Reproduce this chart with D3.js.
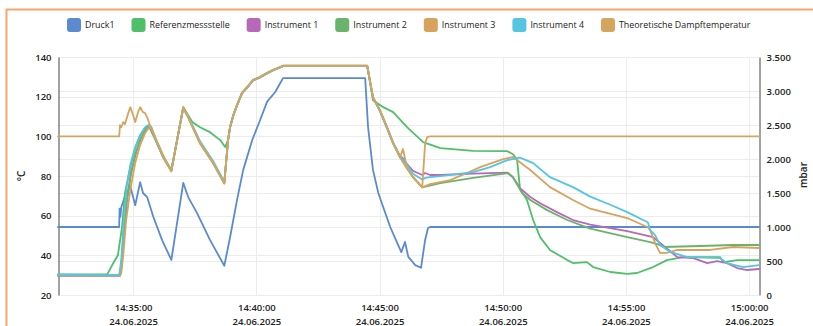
<!DOCTYPE html>
<html>
<head>
<meta charset="utf-8">
<script src="https://cdn.jsdelivr.net/npm/d3@7"></script>
<style>
  html, body { margin: 0; padding: 0; background: #fff; }
  svg { display: block; font-family: "Open Sans", "Noto Sans", sans-serif; }
</style>
</head>
<body>
<svg id="chart" width="813" height="326"></svg>
<script>
// ---- Messdaten 24.06.2025 ----
const messDatum = "24.06.2025";
const zeitTicks = ["14:35:00", "14:40:00", "14:45:00", "14:50:00", "14:55:00", "15:00:00"];
const zeitBereich = ["14:31:57", "15:00:24"];
const tempTicks = [20, 40, 60, 80, 100, 120, 140];
const druckTicks = [0, 500, 1000, 1500, 2000, 2500, 3000, 3500];

const seriesNames = ["Druck1", "Referenzmessstelle", "Instrument 1", "Instrument 2",
                     "Instrument 3", "Instrument 4", "Theoretische Dampftemperatur"];
const seriesColors = ["#5b8ad0", "#4fbf6a", "#b768b8", "#6ab36a", "#d8a25d", "#56c6e0", "#d4a55f"];

// Druck1 in mbar (rechte Achse)
const druck1 = [
  ["14:31:57",1000],["14:34:26",1000],["14:34:27",1270],["14:34:29",1150],["14:34:31",1290],
  ["14:34:40",1450],["14:34:53",1600],["14:35:05",1320],["14:35:17",1660],["14:35:24",1500],
  ["14:35:34",1440],["14:35:49",1150],["14:36:11",800],["14:36:33",515],["14:37:02",1650],
  ["14:37:14",1440],["14:37:36",1200],["14:38:07",810],["14:38:42",430],["14:38:56",850],
  ["14:39:13",1400],["14:39:28",1840],["14:39:50",2280],["14:40:09",2570],["14:40:26",2840],
  ["14:40:34",2900],["14:40:46",2985],["14:41:05",3190],["14:44:25",3190],["14:44:32",2470],
  ["14:44:44",1840],["14:44:57",1500],["14:45:09",1290],["14:45:26",1000],["14:45:43",765],
  ["14:45:53",630],["14:46:02",780],["14:46:10",560],["14:46:27",440],["14:46:41",400],
  ["14:46:51",810],["14:46:58",985],["14:47:03",1000],["15:00:24",1000]
];

// Temperaturen in °C (linke Achse)
const referenz = [
  ["14:31:57",30.4],["14:33:57",30.4],["14:34:09",35.1],["14:34:23",40.2],["14:34:33",54.3],
  ["14:34:40",71.4],["14:34:53",84.5],["14:35:05",94.1],["14:35:17",100.6],["14:35:29",104.1],
  ["14:35:37",105.6],["14:35:58",96.6],["14:36:13",89.5],["14:36:33",83.0],["14:37:02",114.7],
  ["14:37:24",107.2],["14:37:43",104.6],["14:38:07",102.1],["14:38:32",98.1],["14:38:44",94.6],
  ["14:38:51",98.1],["14:38:56",104.8],["14:39:04",110.9],["14:39:13",115.9],["14:39:25",122.0],
  ["14:39:38",125.0],["14:39:52",128.5],["14:40:09",130.0],["14:40:26",132.0],["14:40:41",133.5],
  ["14:41:05",135.6],["14:44:30",135.6],["14:44:44",118.2],["14:45:09",114.7],["14:45:33",112.2],
  ["14:46:07",104.6],["14:46:46",97.1],["14:47:28",94.1],["14:48:48",92.7],["14:50:11",92.5],
  ["14:50:25",91.0],["14:50:35",88.0],["14:50:42",73.5],["14:50:59",67.9],["14:51:14",57.8],
  ["14:51:31",49.2],["14:51:55",42.7],["14:52:37",37.6],["14:52:51",36.1],["14:53:25",36.6],
  ["14:53:40",34.1],["14:54:22",31.6],["14:55:03",30.6],["14:55:27",31.1],["14:56:06",34.1],
  ["14:56:40",37.6],["14:57:19",39.1],["14:58:49",39.1],["14:58:57",36.6],["14:59:31",37.6],
  ["15:00:24",37.6]
];

const instrument1 = [
  ["14:31:57",29.6],["14:34:28",29.6],["14:34:36",45.2],["14:34:45",67.9],["14:34:55",82.0],
  ["14:35:07",92.0],["14:35:19",99.1],["14:35:34",104.6],["14:35:41",104.8],["14:35:58",96.8],
  ["14:36:13",89.8],["14:36:33",82.8],["14:37:02",114.5],["14:37:14",109.8],["14:37:43",97.0],
  ["14:38:15",87.0],["14:38:42",76.8],["14:38:51",98.0],["14:38:56",104.5],["14:39:04",110.6],
  ["14:39:13",115.6],["14:39:25",121.7],["14:39:38",124.7],["14:39:52",128.2],["14:40:09",129.7],
  ["14:40:26",131.7],["14:40:41",133.3],["14:41:05",135.4],["14:44:30",135.4],["14:44:44",119.6],
  ["14:45:01",113.0],["14:45:18",104.8],["14:45:33",97.0],["14:45:50",90.0],["14:45:57",89.0],
  ["14:46:07",86.0],["14:46:22",82.5],["14:46:44",80.5],["14:46:51",81.5],["14:47:03",80.5],
  ["14:47:28",80.5],["14:48:48",81.2],["14:50:11",81.7],["14:50:25",79.4],["14:50:42",73.9],
  ["14:51:07",69.4],["14:51:31",66.3],["14:52:12",61.8],["14:52:51",57.8],["14:53:33",55.5],
  ["14:55:03",52.2],["14:56:06",49.2],["14:56:23",46.2],["14:57:05",39.1],["14:57:44",38.6],
  ["14:58:18",36.1],["14:58:42",37.1],["14:59:06",36.1],["14:59:31",33.6],["14:59:55",32.6],
  ["15:00:24",33.1]
];

const instrument2 = [
  ["14:31:57",30.0],["14:34:28",30.0],["14:34:31",32.6],["14:34:36",47.7],["14:34:43",65.3],
  ["14:34:53",78.9],["14:35:05",90.5],["14:35:17",98.1],["14:35:32",104.1],["14:35:39",105.4],
  ["14:35:44",104.6],["14:35:58",96.8],["14:36:13",89.6],["14:36:33",82.6],["14:37:02",114.6],
  ["14:37:14",109.6],["14:37:43",96.5],["14:38:15",86.4],["14:38:42",76.3],["14:38:51",98.0],
  ["14:38:56",104.6],["14:39:04",110.7],["14:39:13",115.7],["14:39:25",121.8],["14:39:38",124.8],
  ["14:39:52",128.3],["14:40:09",129.8],["14:40:26",131.8],["14:40:41",133.4],["14:41:05",135.4],
  ["14:44:30",135.4],["14:44:44",119.6],["14:45:01",113.1],["14:45:18",104.5],["14:45:33",96.5],
  ["14:45:50",89.4],["14:46:07",83.9],["14:46:22",79.3],["14:46:44",74.3],["14:47:28",76.4],
  ["14:48:48",79.0],["14:50:13",81.5],["14:50:25",79.4],["14:50:47",71.4],["14:51:07",67.9],
  ["14:51:48",62.8],["14:52:37",57.8],["14:53:33",53.5],["14:55:03",49.2],["14:55:59",46.7],
  ["14:56:16",45.7],["14:56:31",44.2],["14:58:01",44.7],["14:59:21",45.2],["15:00:24",45.2]
];

const instrument3 = [
  ["14:31:57",29.8],["14:34:28",29.8],["14:34:31",31.0],["14:34:36",40.2],["14:34:43",57.8],
  ["14:34:53",72.9],["14:35:05",86.5],["14:35:17",95.6],["14:35:29",101.6],["14:35:39",104.6],
  ["14:35:44",104.0],["14:35:58",96.6],["14:36:13",89.2],["14:36:33",82.3],["14:37:02",114.4],
  ["14:37:14",109.5],["14:37:43",96.3],["14:38:15",86.3],["14:38:42",76.2],["14:38:51",97.9],
  ["14:38:56",104.5],["14:39:04",110.6],["14:39:13",115.6],["14:39:25",121.7],["14:39:38",124.7],
  ["14:39:52",128.2],["14:40:09",129.7],["14:40:26",131.7],["14:40:41",133.3],["14:41:05",135.4],
  ["14:44:30",135.4],["14:44:44",119.6],["14:45:01",113.0],["14:45:18",104.4],["14:45:33",96.4],
  ["14:45:50",89.3],["14:46:07",83.8],["14:46:22",79.2],["14:46:44",74.3],["14:47:03",75.9],
  ["14:47:52",77.9],["14:48:33",81.5],["14:49:05",84.5],["14:50:01",88.5],["14:50:25",89.6],
  ["14:51:07",83.0],["14:51:55",74.4],["14:52:51",67.9],["14:53:33",63.5],["14:55:03",58.8],
  ["14:55:52",54.3],["14:55:59",52.7],["14:56:11",46.2],["14:56:23",41.2],["14:56:40",41.2],
  ["14:57:05",42.7],["14:58:25",42.7],["14:59:21",44.2],["15:00:24",43.7]
];

const instrument4 = [
  ["14:31:57",30.2],["14:34:26",30.0],["14:34:31",37.6],["14:34:38",60.3],["14:34:45",75.4],
  ["14:34:53",85.5],["14:35:05",94.6],["14:35:17",100.6],["14:35:29",104.6],["14:35:37",105.6],
  ["14:35:44",104.8],["14:35:58",97.0],["14:36:13",90.0],["14:36:33",83.0],["14:37:02",114.2],
  ["14:37:14",110.0],["14:37:43",97.5],["14:38:15",87.5],["14:38:42",77.0],["14:38:51",97.8],
  ["14:38:56",104.5],["14:39:04",110.6],["14:39:13",115.6],["14:39:25",121.7],["14:39:38",124.7],
  ["14:39:52",128.2],["14:40:09",129.7],["14:40:26",131.7],["14:40:41",133.3],["14:41:05",135.4],
  ["14:44:30",135.4],["14:44:44",119.5],["14:45:01",112.7],["14:45:18",104.0],["14:45:33",96.5],
  ["14:45:50",89.7],["14:46:02",87.0],["14:46:22",81.0],["14:46:44",78.2],["14:46:51",79.0],
  ["14:47:03",79.4],["14:47:28",79.9],["14:48:48",82.0],["14:49:29",84.5],["14:50:11",88.0],
  ["14:50:42",89.3],["14:51:14",86.5],["14:51:55",79.4],["14:52:51",74.4],["14:53:33",69.6],
  ["14:54:22",65.5],["14:55:03",61.8],["14:55:52",56.8],["14:55:54",56.3],["14:55:59",52.7],
  ["14:56:11",50.2],["14:56:23",45.2],["14:56:48",41.7],["14:57:29",39.1],["14:58:49",38.6],
  ["14:59:06",36.1],["14:59:45",34.1],["15:00:24",35.1]
];

const theoretisch = [
  ["14:31:57",100.0],["14:34:26",100.0],["14:34:28",105.6],["14:34:31",104.6],["14:34:36",107.2],
  ["14:34:40",106.1],["14:34:48",111.7],["14:34:53",114.7],["14:35:00",110.7],["14:35:05",107.2],
  ["14:35:12",112.2],["14:35:17",114.7],["14:35:24",112.2],["14:35:29",111.7],["14:35:34",109.7],
  ["14:35:41",105.6],["14:35:58",97.6],["14:36:13",90.5],["14:36:33",82.5],["14:37:02",114.7],
  ["14:37:14",109.7],["14:37:43",96.6],["14:38:15",86.5],["14:38:42",76.4],["14:38:51",98.1],
  ["14:38:56",104.6],["14:39:04",110.7],["14:39:13",115.7],["14:39:25",121.8],["14:39:38",124.8],
  ["14:39:52",128.3],["14:40:09",129.8],["14:40:26",131.8],["14:40:41",133.4],["14:41:05",135.6],
  ["14:44:30",135.6],["14:44:44",119.7],["14:45:01",113.2],["14:45:18",104.6],["14:45:33",96.6],
  ["14:45:50",89.5],["14:45:57",93.6],["14:46:07",84.0],["14:46:22",79.4],["14:46:44",74.4],
  ["14:46:51",96.6],["14:46:56",99.6],["14:47:03",100.0],["15:00:24",100.0]
];

// ---- Aufbau ----
const seriesData = [druck1, referenz, instrument1, instrument2, instrument3, instrument4, theoretisch];
const seriesAxis = ["right", "left", "left", "left", "left", "left", "left"];

const W = 813, H = 326;
const plot = { left: 58, right: 759, top: 57, bottom: 295 };

const parseZeit = d3.timeParse("%d.%m.%Y %H:%M:%S");
const zeit = s => parseZeit(messDatum + " " + s);
const fmtZeit = d3.timeFormat("%H:%M:%S");
const fmtDatum = d3.timeFormat("%d.%m.%Y");
const de = d3.formatLocale({ decimal: ",", thousands: ".", grouping: [3], currency: ["", " €"] });
const fmtDruck = de.format(",");

const x = d3.scaleTime().domain(zeitBereich.map(zeit)).range([plot.left, plot.right]);
const yT = d3.scaleLinear().domain([20, 140]).range([plot.bottom, plot.top]);
const yP = d3.scaleLinear().domain([0, 3500]).range([plot.bottom, plot.top]);

const svg = d3.select("#chart");
svg.append("rect").attr("width", W).attr("height", H).attr("fill", "#fff");

// Rahmen
svg.append("path")
  .attr("d", `M6.5,${H}V9.5H${W}`)
  .attr("fill", "none").attr("stroke", "#f5a56a").attr("stroke-width", 2);

// Gitternetz
const grid = svg.append("g").attr("stroke", "#ececec").attr("stroke-width", 1);
grid.selectAll("line.gt").data(tempTicks).join("line")
  .attr("x1", plot.left).attr("x2", plot.right)
  .attr("y1", d => Math.round(yT(d)) + 0.5).attr("y2", d => Math.round(yT(d)) + 0.5);
grid.selectAll("line.gp").data(druckTicks).join("line")
  .attr("x1", plot.left).attr("x2", plot.right)
  .attr("y1", d => Math.round(yP(d)) + 0.5).attr("y2", d => Math.round(yP(d)) + 0.5);
grid.selectAll("line.gx").data(zeitTicks.map(zeit)).join("line")
  .attr("y1", plot.top).attr("y2", plot.bottom)
  .attr("x1", d => Math.round(x(d)) + 0.5).attr("x2", d => Math.round(x(d)) + 0.5);

const tickStyle = g => {
  g.attr("font-family", null).attr("font-size", null);
  g.selectAll(".tick text")
    .attr("fill", "#222").style("font-size", "9.5px").style("font-weight", 600);
};

// Linke Achse (°C)
svg.append("g")
  .attr("transform", `translate(${plot.left + 0.5},0)`)
  .call(d3.axisLeft(yT).tickValues(tempTicks).tickSize(0).tickPadding(7))
  .call(tickStyle)
  .call(g => g.select(".domain").attr("stroke", "#444"));

// Rechte Achse (mbar)
svg.append("g")
  .attr("transform", `translate(${plot.right + 0.5},0)`)
  .call(d3.axisRight(yP).tickValues(druckTicks).tickSize(0).tickPadding(7).tickFormat(fmtDruck))
  .call(tickStyle)
  .call(g => g.select(".domain").attr("stroke", "#444"));

// Zeitachse mit zweizeiliger Beschriftung
svg.append("g")
  .attr("transform", `translate(0,${plot.bottom})`)
  .call(d3.axisBottom(x).tickValues(zeitTicks.map(zeit)).tickSize(0))
  .call(tickStyle)
  .call(g => g.select(".domain").remove())
  .call(g => g.selectAll(".tick text").each(function (d) {
    const t = d3.select(this).text(null).attr("y", null).attr("dy", null);
    t.append("tspan").attr("x", 0).attr("y", 15.5).text(fmtZeit(d));
    t.append("tspan").attr("x", 0).attr("y", 29.5).text(fmtDatum(d));
  }));

// Achsentitel
svg.append("text")
  .attr("transform", "translate(25,176) rotate(-90)")
  .attr("text-anchor", "middle").attr("fill", "#222")
  .style("font-size", "10px").style("font-weight", 600)
  .text("°C");
svg.append("text")
  .attr("transform", "translate(807,175) rotate(-90)")
  .attr("text-anchor", "middle").attr("fill", "#222")
  .style("font-size", "10px").style("font-weight", 600)
  .text("mbar");

// Kurven
const lines = svg.append("g").attr("fill", "none");
seriesData.forEach((rows, i) => {
  const y = seriesAxis[i] === "right" ? yP : yT;
  const gen = d3.line().x(r => x(zeit(r[0]))).y(r => y(r[1]));
  lines.append("path")
    .attr("d", gen(rows))
    .attr("stroke", seriesColors[i])
    .attr("stroke-width", 1.8)
    .attr("stroke-linejoin", "round")
    .attr("stroke-linecap", "round");
});

// Legende
const legend = svg.append("g");
let lx = 67;
seriesNames.forEach((name, i) => {
  const item = legend.append("g").attr("transform", `translate(${lx},0)`);
  item.append("rect")
    .attr("x", 0).attr("y", 18).attr("width", 14).attr("height", 14).attr("rx", 3)
    .attr("fill", seriesColors[i]);
  const label = item.append("text")
    .attr("x", 18).attr("y", 25).attr("dy", "0.35em")
    .attr("fill", "#222").style("font-size", "8.9px")
    .text(name);
  lx += 18 + label.node().getComputedTextLength() + 17;
});
</script>
</body>
</html>
